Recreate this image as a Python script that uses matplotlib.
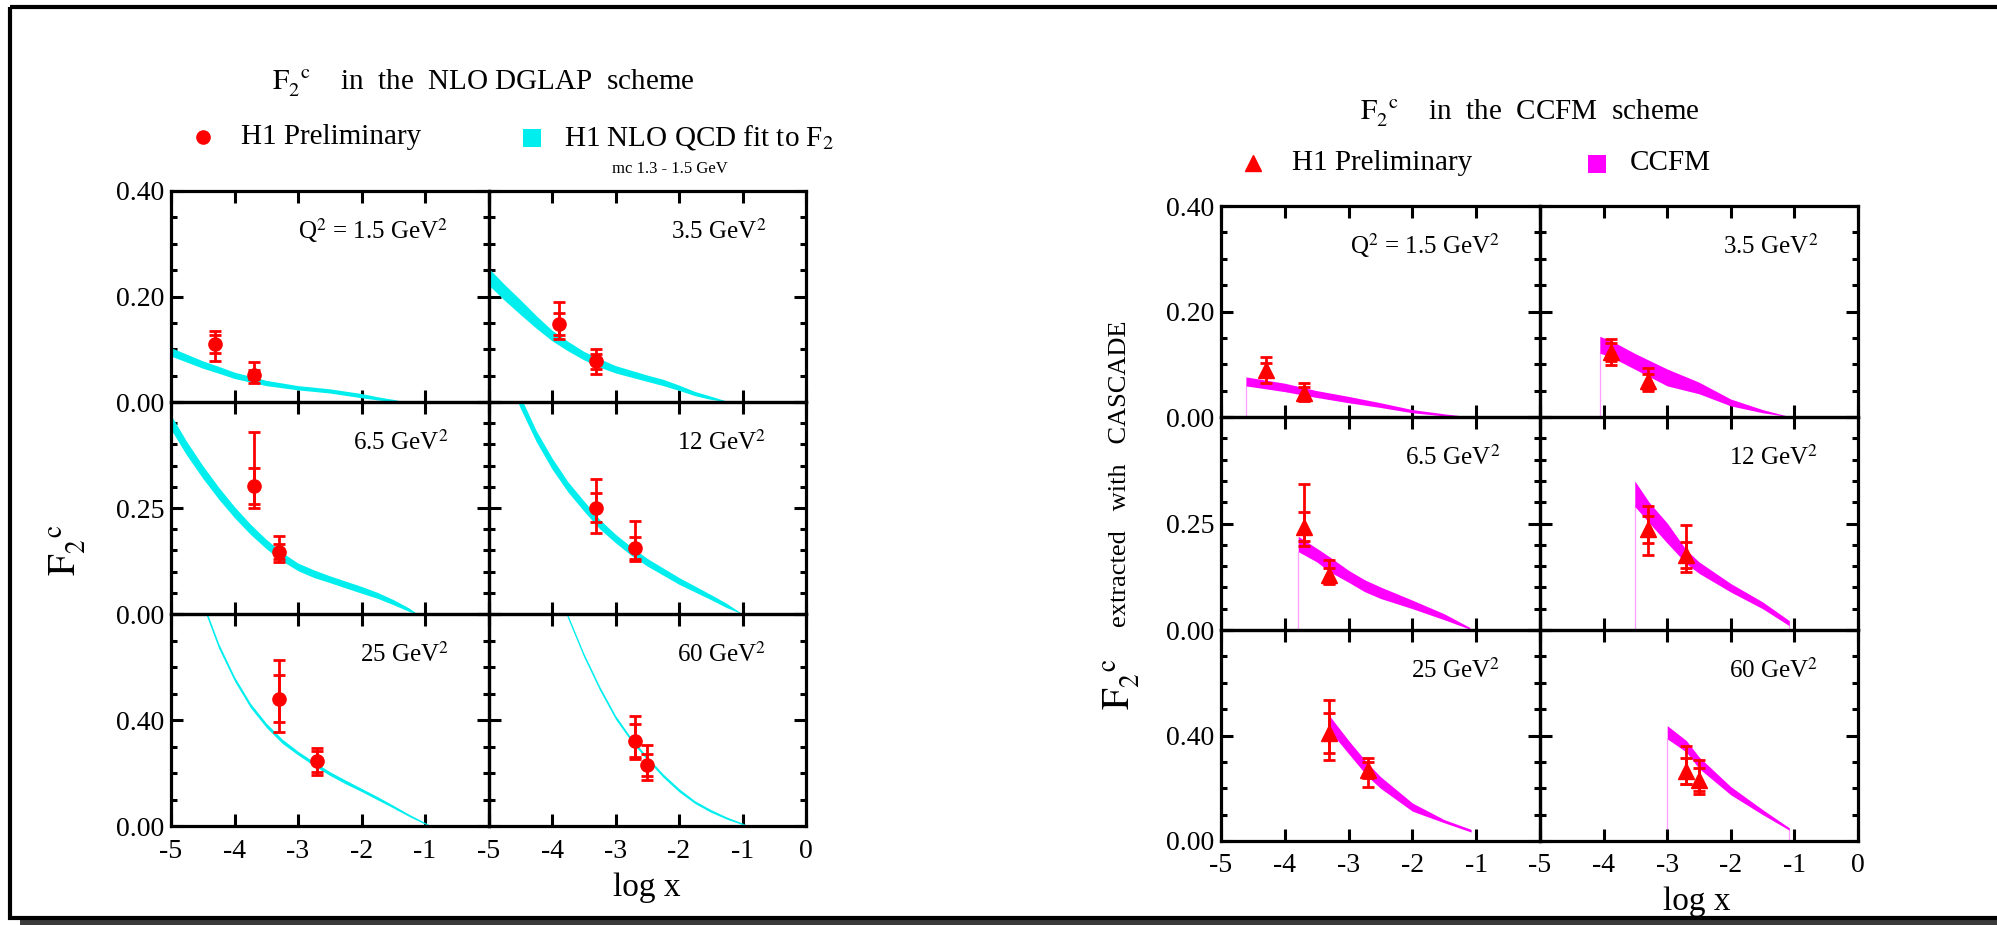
import numpy as np
import matplotlib
matplotlib.use('Agg')
import matplotlib.pyplot as plt
from matplotlib.patches import Rectangle
from matplotlib.ticker import FixedLocator, MultipleLocator, FixedFormatter

plt.rcParams['font.family'] = ['Liberation Serif', 'DejaVu Serif']
plt.rcParams['mathtext.fontset'] = 'stix'

W, H = 1997, 925

# ---------------- data ----------------
q2_labels = ["Q$^2$ = 1.5 GeV$^2$", "3.5 GeV$^2$", "6.5 GeV$^2$",
             "12 GeV$^2$", "25 GeV$^2$", "60 GeV$^2$"]
row_ymax = [0.40, 0.50, 0.80]
row_major = [[0.0, 0.20, 0.40], [0.0, 0.25, 0.50], [0.0, 0.40, 0.80]]
row_labels = [["0.00", "0.20", "0.40"], ["0.00", "0.25", ""], ["0.00", "0.40", ""]]
row_minor = [0.05, 0.05, 0.10]
xticks = [-5, -4, -3, -2, -1, 0]
xlabels_col1 = ["-5", "-4", "-3", "-2", "-1", ""]
xlabels_col2 = ["-5", "-4", "-3", "-2", "-1", "0"]

# measured points (log x) per Q2 bin
logx = [[-4.30, -3.70], [-3.89, -3.30], [-3.70, -3.30],
        [-3.30, -2.70], [-3.30, -2.70], [-2.70, -2.50]]

# DGLAP (left) extraction
dg_val = [[0.110, 0.052], [0.148, 0.077], [0.302, 0.147],
          [0.251, 0.156], [0.481, 0.244], [0.322, 0.229]]
dg_stat = [[0.017, 0.008], [0.021, 0.014], [0.042, 0.018],
           [0.035, 0.026], [0.088, 0.040], [0.062, 0.042]]
dg_tot_up = [[0.024, 0.023], [0.041, 0.023], [0.128, 0.036],
             [0.067, 0.064], [0.146, 0.050], [0.094, 0.077]]
dg_tot_dn = [[0.032, 0.016], [0.029, 0.023], [0.053, 0.025],
             [0.061, 0.031], [0.127, 0.053], [0.068, 0.054]]

# CCFM (right) extraction
cc_val = [[0.090, 0.045], [0.123, 0.068], [0.242, 0.128],
          [0.236, 0.176], [0.410, 0.268], [0.265, 0.233]]
cc_stat = [[0.012, 0.011], [0.017, 0.014], [0.034, 0.017],
           [0.032, 0.030], [0.076, 0.030], [0.050, 0.045]]
cc_tot_up = [[0.023, 0.019], [0.025, 0.024], [0.100, 0.036],
             [0.054, 0.070], [0.124, 0.047], [0.095, 0.073]]
cc_tot_dn = [[0.026, 0.014], [0.024, 0.018], [0.045, 0.019],
             [0.060, 0.041], [0.104, 0.062], [0.050, 0.054]]

# NLO QCD fit bands (left): centre and half width
nlo_x = [
    [-5.0, -4.75, -4.5, -4.25, -4.0, -3.5, -3.0, -2.5, -2.0, -1.75, -1.5, -1.3],
    [-5.0, -4.75, -4.5, -4.25, -4.0, -3.75, -3.5, -3.25, -3.0, -2.5, -2.25, -2.0, -1.75, -1.5, -1.2],
    [-5.0, -4.75, -4.5, -4.25, -4.0, -3.75, -3.5, -3.25, -3.0, -2.75, -2.5, -2.0, -1.75, -1.5, -1.25, -1.12],
    [-5.0, -4.75, -4.5, -4.25, -4.0, -3.75, -3.5, -3.25, -3.0, -2.75, -2.5, -2.0, -1.5, -1.25, -1.0],
    [-4.75, -4.5, -4.25, -4.0, -3.75, -3.5, -3.25, -3.0, -2.75, -2.5, -2.25, -2.0, -1.75, -1.5, -1.25, -1.0, -0.9],
    [-4.0, -3.75, -3.5, -3.25, -3.0, -2.75, -2.5, -2.25, -2.0, -1.75, -1.5, -1.25, -1.0, -0.9],
]
nlo_mid = [
    [0.095, 0.083, 0.071, 0.061, 0.0505, 0.036, 0.027, 0.021, 0.012, 0.007, 0.003, 0.0],
    [0.238, 0.208, 0.180, 0.152, 0.126, 0.106, 0.088, 0.074, 0.062, 0.045, 0.037, 0.027, 0.016, 0.008, 0.0],
    [0.452, 0.390, 0.335, 0.285, 0.240, 0.200, 0.165, 0.135, 0.111, 0.095, 0.082, 0.057, 0.044, 0.028, 0.010, 0.0],
    [0.700, 0.590, 0.500, 0.420, 0.355, 0.300, 0.255, 0.212, 0.178, 0.148, 0.122, 0.078, 0.040, 0.020, 0.0],
    [1.050, 0.840, 0.680, 0.555, 0.455, 0.380, 0.320, 0.275, 0.235, 0.198, 0.166, 0.136, 0.105, 0.073, 0.040, 0.010, 0.0],
    [0.950, 0.790, 0.645, 0.520, 0.410, 0.325, 0.255, 0.190, 0.135, 0.090, 0.057, 0.030, 0.008, 0.0],
]
nlo_hw = [
    [0.008, 0.0075, 0.007, 0.0065, 0.006, 0.005, 0.004, 0.004, 0.004, 0.003, 0.002, 0.0],
    [0.016, 0.015, 0.014, 0.012, 0.010, 0.009, 0.008, 0.008, 0.007, 0.006, 0.006, 0.005, 0.004, 0.003, 0.0],
    [0.017, 0.016, 0.015, 0.014, 0.013, 0.012, 0.011, 0.010, 0.009, 0.009, 0.008, 0.008, 0.007, 0.006, 0.004, 0.0],
    [0.015, 0.014, 0.014, 0.013, 0.013, 0.012, 0.012, 0.011, 0.010, 0.010, 0.009, 0.008, 0.006, 0.005, 0.0],
    [0.009, 0.009, 0.009, 0.008, 0.008, 0.008, 0.008, 0.007, 0.007, 0.007, 0.007, 0.006, 0.006, 0.005, 0.004, 0.003, 0.0],
    [0.007, 0.007, 0.007, 0.007, 0.007, 0.006, 0.006, 0.006, 0.006, 0.005, 0.005, 0.004, 0.003, 0.0],
]

# CCFM bands (right)
ccfm_x = [
    [-4.61, -4.0, -3.5, -3.0, -2.5, -2.0, -1.5, -1.1],
    [-4.06, -3.87, -3.5, -3.0, -2.5, -2.0, -1.5, -1.05],
    [-3.79, -3.5, -3.3, -3.0, -2.75, -2.5, -2.0, -1.5, -1.1],
    [-3.51, -3.28, -3.0, -2.7, -2.5, -2.0, -1.5, -1.08],
    [-3.30, -3.0, -2.7, -2.5, -2.0, -1.5, -1.08],
    [-3.0, -2.7, -2.5, -2.0, -1.5, -1.08],
]
ccfm_up = [
    [0.076, 0.064, 0.050, 0.039, 0.027, 0.014, 0.006, 0.0005],
    [0.153, 0.144, 0.120, 0.091, 0.066, 0.034, 0.014, 0.0],
    [0.220, 0.192, 0.172, 0.140, 0.118, 0.101, 0.070, 0.038, 0.006],
    [0.350, 0.299, 0.251, 0.188, 0.160, 0.109, 0.066, 0.022],
    [0.475, 0.381, 0.294, 0.244, 0.144, 0.081, 0.044],
    [0.4375, 0.381, 0.319, 0.206, 0.119, 0.050],
]
ccfm_lo = [
    [0.059, 0.048, 0.037, 0.027, 0.018, 0.008, 0.002, 0.0],
    [0.121, 0.113, 0.090, 0.059, 0.044, 0.021, 0.008, 0.0],
    [0.184, 0.160, 0.137, 0.112, 0.090, 0.074, 0.050, 0.024, 0.002],
    [0.290, 0.251, 0.204, 0.156, 0.133, 0.089, 0.050, 0.010],
    [0.419, 0.331, 0.244, 0.200, 0.113, 0.069, 0.034],
    [0.3875, 0.3375, 0.275, 0.175, 0.100, 0.041],
]
ccfm_start_line = [True, True, True, True, False, True]
ccfm_end_line = [False, False, False, True, False, True]

RED = '#ff0000'
CYAN = '#00eeee'
MAGENTA = '#ff00ff'
PINK = '#ff9cff'

fig = plt.figure(figsize=(W / 100, H / 100), dpi=100)

# overlay for frame / legends
ov = fig.add_axes([0, 0, 1, 1])
ov.set_xlim(0, W)
ov.set_ylim(H, 0)
ov.axis('off')
ov.add_patch(Rectangle((20, 919), 2000, 8, color='#3c3c3c', lw=0))
ov.add_patch(Rectangle((10.5, 7), 2100, 911, fill=False, ec='black', lw=3.0))


def make_panel(xs, ys):
    axes = []
    for r in range(3):
        row = []
        for c in range(2):
            x0, x1 = xs[c], xs[c + 1]
            y0, y1 = ys[r], ys[r + 1]
            ax = fig.add_axes([x0 / W, 1 - y1 / H, (x1 - x0) / W, (y1 - y0) / H])
            ax.set_facecolor('none')
            ax.set_xlim(-5, 0)
            ax.set_ylim(0, row_ymax[r])
            ax.xaxis.set_major_locator(FixedLocator(xticks))
            if r == 2:
                ax.xaxis.set_major_formatter(FixedFormatter(xlabels_col1 if c == 0 else xlabels_col2))
            else:
                ax.set_xticklabels([])
            ax.yaxis.set_major_locator(FixedLocator(row_major[r]))
            ax.yaxis.set_minor_locator(MultipleLocator(row_minor[r]))
            if c == 0:
                ax.yaxis.set_major_formatter(FixedFormatter(row_labels[r]))
            else:
                ax.set_yticklabels([])
            ax.tick_params(which='both', direction='in', top=True, right=True,
                           width=2.2, labelsize=20, colors='black')
            ax.tick_params(which='major', length=8.6)
            ax.tick_params(which='minor', length=4.5)
            ax.tick_params(axis='x', pad=9)
            ax.tick_params(axis='y', pad=5)
            for s in ax.spines.values():
                s.set_linewidth(2.3)
            row.append(ax)
        axes.append(row)
    return axes


left_axes = make_panel([171, 488.5, 806], [191, 402, 614, 826])
right_axes = make_panel([1221, 1540, 1858], [206, 417, 630, 841])


def draw_points(ax, xv, val, stat, tup, tdn, marker, ms):
    xv = np.array(xv)
    val = np.array(val)
    ax.errorbar(xv, val, yerr=[np.array(tdn), np.array(tup)], fmt='none',
                ecolor=RED, elinewidth=2.0, capsize=4.5, capthick=2.0, zorder=5)
    ax.errorbar(xv, val, yerr=np.array(stat), fmt='none',
                ecolor=RED, elinewidth=2.0, capsize=4.5, capthick=2.0, zorder=5)
    ax.plot(xv, val, linestyle='none', marker=marker, ms=ms, color=RED,
            mec=RED, zorder=6)


for i in range(6):
    r, c = divmod(i, 2)
    ax = left_axes[r][c]
    mid = np.array(nlo_mid[i])
    hw = np.array(nlo_hw[i])
    ax.fill_between(nlo_x[i], mid - hw, mid + hw, color=CYAN, lw=0, zorder=2)
    draw_points(ax, logx[i], dg_val[i], dg_stat[i], dg_tot_up[i], dg_tot_dn[i], 'o', 9.5)
    ax.text(0.875, 0.775, q2_labels[i], transform=ax.transAxes, ha='right',
            va='baseline', fontsize=18)

    ax = right_axes[r][c]
    bx, bl, bu = ccfm_x[i], ccfm_lo[i], ccfm_up[i]
    ax.fill_between(bx, bl, bu, color=MAGENTA, lw=0, zorder=2)
    if ccfm_start_line[i]:
        ax.plot([bx[0], bx[0]], [0, bl[0]], color=PINK, lw=0.9, zorder=1)
    if ccfm_end_line[i]:
        ax.plot([bx[-1], bx[-1]], [0, bl[-1]], color=PINK, lw=0.9, zorder=1)
    draw_points(ax, logx[i], cc_val[i], cc_stat[i], cc_tot_up[i], cc_tot_dn[i], '^', 11)
    ax.text(0.875, 0.775, q2_labels[i], transform=ax.transAxes, ha='right',
            va='baseline', fontsize=18)

F2C = r'$\mathrm{F}_{2}^{\;\;\;\mathrm{c}}$'

# titles
ov.text(483, 83, F2C + '    in  the  NLO DGLAP  scheme',
        ha='center', va='center', fontsize=21)
ov.text(1530, 113, F2C + '    in  the  CCFM  scheme',
        ha='center', va='center', fontsize=21)

# left legend
ov.plot([203], [137], 'o', color=RED, ms=9.5)
ov.text(241, 137, 'H1 Preliminary', ha='left', va='center', fontsize=21)
ov.add_patch(Rectangle((523, 129), 18, 18, color=CYAN, lw=0))
ov.text(564, 137, r'H1 NLO QCD fit to F$_2$', ha='left', va='center', fontsize=21)
ov.text(670, 169, 'mc 1.3 - 1.5 GeV', ha='center', va='center', fontsize=12)

# right legend
ov.plot([1253], [163], '^', color=RED, ms=11)
ov.text(1292, 163, 'H1 Preliminary', ha='left', va='center', fontsize=21)
ov.add_patch(Rectangle((1588, 155), 18, 18, color=MAGENTA, lw=0))
ov.text(1630, 163, 'CCFM', ha='left', va='center', fontsize=21)

# axis labels
ov.text(68, 550, F2C, rotation=90, ha='center', va='center', fontsize=28)
ov.text(647, 896, 'log x', ha='center', va='baseline', fontsize=24)
ov.text(1122, 684, F2C, rotation=90, ha='center', va='center', fontsize=28)
ov.text(1120, 474, 'extracted   with   CASCADE', rotation=90, ha='center',
        va='center', fontsize=19)
ov.text(1697, 910, 'log x', ha='center', va='baseline', fontsize=24)

fig.savefig('out.png', dpi=100)
